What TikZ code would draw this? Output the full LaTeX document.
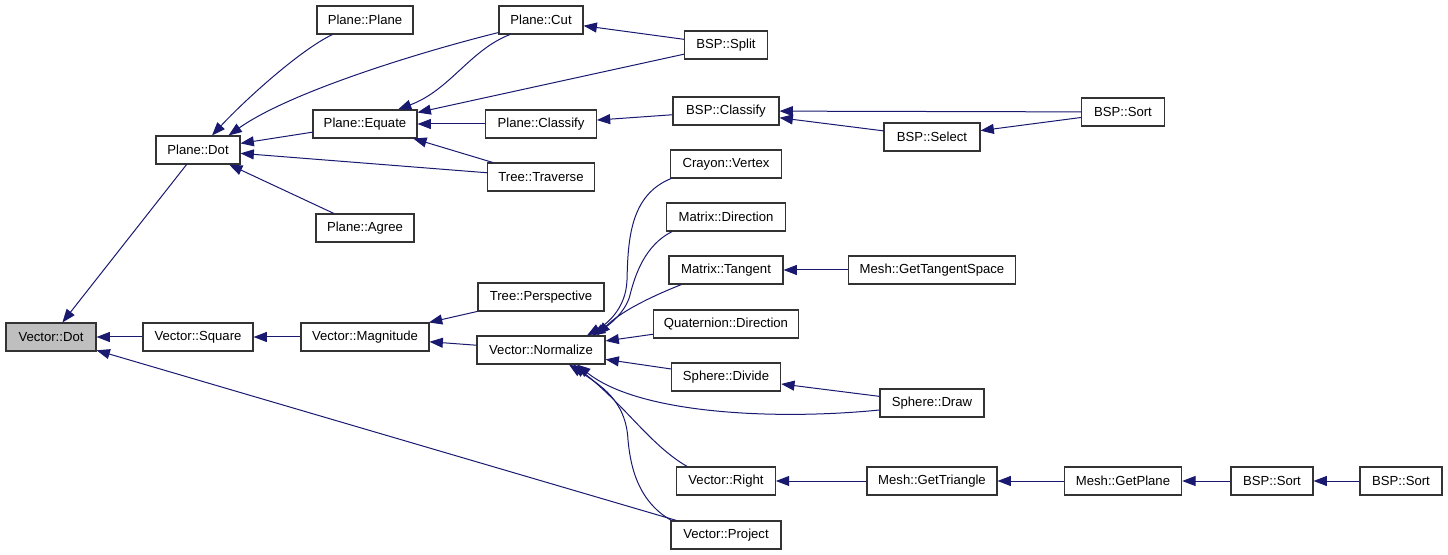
\documentclass[tikz,border=0pt]{standalone}
\usepackage{fontspec}
\setmainfont{Liberation Sans}
\usetikzlibrary{arrows.meta,calc}
\definecolor{edgeblue}{RGB}{25,25,112}

\begin{document}
\begin{tikzpicture}[x=0.75pt,y=-0.75pt,
  fn/.style={draw=black!80, line width=0.8pt, minimum height=21pt, inner sep=0pt,
    font=\fontsize{9.85}{11}\selectfont},
  call/.style={edgeblue, line width=0.75pt, -{Triangle[length=10pt,width=7.5pt]}}]

\useasboundingbox (0,0) rectangle (1448,555);

\node[fn, fill=black!25, minimum width=67.5pt] (vdot) at (51,337) {Vector::Dot};
\node[fn, minimum width=63pt] (pdot) at (198,150) {Plane::Dot};
\node[fn, minimum width=82.5pt] (vsquare) at (198,337) {Vector::Square};

\node[fn, minimum width=72pt] (pplane) at (365,20) {Plane::Plane};
\node[fn, minimum width=78pt] (pequate) at (365,124) {Plane::Equate};
\node[fn, minimum width=73.5pt] (pagree) at (365,228) {Plane::Agree};
\node[fn, minimum width=96pt] (vmag) at (365,337) {Vector::Magnitude};

\node[fn, minimum width=63pt] (pcut) at (541,20) {Plane::Cut};
\node[fn, minimum width=83pt] (pclassify) at (541,124) {Plane::Classify};
\node[fn, minimum width=80pt] (ttraverse) at (541,177) {Tree::Traverse};
\node[fn, minimum width=94.5pt] (tpersp) at (541,297) {Tree::Perspective};
\node[fn, minimum width=96pt] (vnorm) at (541,350) {Vector::Normalize};

\node[fn, minimum width=62pt] (bsplit) at (726,45) {BSP::Split};
\node[fn, minimum width=79.5pt] (bclassify) at (726,111) {BSP::Classify};
\node[fn, minimum width=83pt] (cvertex) at (726,164) {Crayon::Vertex};
\node[fn, minimum width=89pt] (mdir) at (726,217) {Matrix::Direction};
\node[fn, minimum width=85.5pt] (mtangent) at (726,270) {Matrix::Tangent};
\node[fn, minimum width=109pt] (qdir) at (726,324) {Quaternion::Direction};
\node[fn, minimum width=82pt] (sdivide) at (726,377) {Sphere::Divide};
\node[fn, minimum width=74pt] (vright) at (726,481) {Vector::Right};
\node[fn, minimum width=82.5pt] (vproj) at (726,535) {Vector::Project};

\node[fn, minimum width=72pt] (bselect) at (932,137) {BSP::Select};
\node[fn, minimum width=125pt] (mgts) at (932,270) {Mesh::GetTangentSpace};
\node[fn, minimum width=78pt] (sdraw) at (932,403) {Sphere::Draw};
\node[fn, minimum width=97.5pt] (mgtri) at (932,481) {Mesh::GetTriangle};

\node[fn, minimum width=62pt] (bsorta) at (1123,112) {BSP::Sort};
\node[fn, minimum width=88pt] (mgplane) at (1123,481) {Mesh::GetPlane};
\node[fn, minimum width=61.5pt] (bsortb) at (1272,481) {BSP::Sort};
\node[fn, minimum width=61.5pt] (bsortc) at (1401,481) {BSP::Sort};

% straight calls
\draw[call] (pdot) -- (vdot);
\draw[call] (vsquare) -- (vdot);
\draw[call] (vproj) -- (vdot);
\draw[call] (vmag) -- (vsquare);
\draw[call] (pequate) -- (pdot);
\draw[call] (ttraverse) -- (pdot);
\draw[call] (pagree) -- (pdot);
\draw[call] (bsplit) -- (pequate);
\draw[call] (pclassify) -- (pequate);
\draw[call] (ttraverse) -- (pequate);
\draw[call] (bsplit) -- (pcut);
\draw[call] (bclassify) -- (pclassify);
\draw[call] (bsorta) -- (bclassify);
\draw[call] (bselect) -- (bclassify);
\draw[call] (bsorta) -- (bselect);
\draw[call] (tpersp) -- (vmag);
\draw[call] (vnorm) -- (vmag);
\draw[call] (qdir) -- (vnorm);
\draw[call] (sdivide) -- (vnorm);
\draw[call] (mgts) -- (mtangent);
\draw[call] (sdraw) -- (sdivide);
\draw[call] (mgtri) -- (vright);
\draw[call] (mgplane) -- (mgtri);
\draw[call] (bsortb) -- (mgplane);
\draw[call] (bsortc) -- (bsortb);

% curved calls
\draw[call] ($(pplane.south west)+(16,0)$) .. controls (300,50) and (245,100) .. ($(pdot.north)+(14,0)$);
\draw[call] ($(pcut.south west)+(0,-2)$) .. controls (420,52) and (290,92) .. ($(pdot.north east)+(-12,0)$);
\draw[call] ($(pcut.south)+(-31,0)$) .. controls (470,50) and (450,90) .. ($(pequate.north)+(33,0)$);
\draw[call] ($(cvertex.south west)+(1,0)$) .. controls (630,195) and (628,240) .. (627,280)
  .. controls (626,310) and (605,325) .. ($(vnorm.north)+(46,0)$);
\draw[call] ($(mdir.south west)+(6,0)$) .. controls (645,245) and (635,275) .. (630,295)
  .. controls (626,312) and (608,326) .. ($(vnorm.north)+(51,0)$);
\draw[call] ($(mtangent.south west)+(13,0)$) .. controls (650,297) and (620,312) .. ($(vnorm.north)+(56,0)$);
\draw[call] ($(sdraw.west)+(0,7)$) .. controls (780,420) and (640,415) .. ($(vnorm.south)+(36,0)$);
\draw[call] ($(vright.north west)+(11,0)$) .. controls (650,445) and (625,405) .. ($(vnorm.south)+(32,0)$);
\draw[call] ($(vproj.north west)+(1,0)$) .. controls (635,500) and (630,460) .. (628,440)
  .. controls (626,400) and (600,385) .. ($(vnorm.south)+(28,0)$);

\end{tikzpicture}
\end{document}
